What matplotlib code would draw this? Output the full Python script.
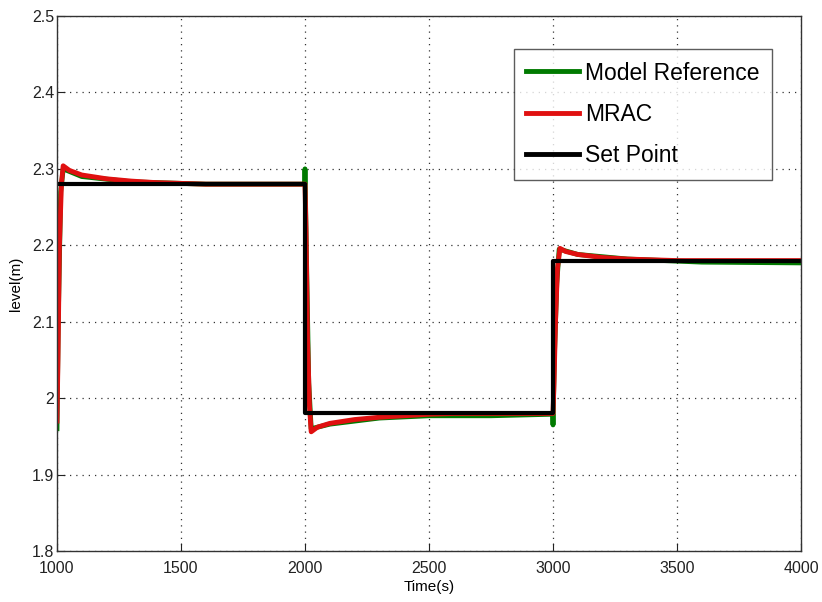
import matplotlib
matplotlib.use("Agg")
import matplotlib.pyplot as plt

plt.rcParams["font.family"] = ["Liberation Sans", "DejaVu Sans"]

# Set point (step changes)
setpoint_t = [1000, 2000, 2000, 3000, 3000, 4000]
setpoint_y = [2.28, 2.28, 1.98, 1.98, 2.18, 2.18]

# Model reference output
model_t = [1000, 1005, 1015, 1025, 1100, 1300, 1600, 1999,
           2000, 2005, 2015, 2025, 2100, 2300, 2500, 2750, 2999,
           3000, 3005, 3015, 3025, 3100, 3300, 3600, 4000]
model_y = [1.96, 2.10, 2.27, 2.30, 2.29, 2.283, 2.28, 2.28,
           2.30, 2.20, 2.02, 1.96, 1.966, 1.974, 1.977, 1.977, 1.979,
           1.965, 2.05, 2.15, 2.195, 2.188, 2.182, 2.178, 2.177]

# MRAC plant output
mrac_t = [1000, 1004, 1010, 1018, 1025, 1050, 1100, 1200, 1300, 1400, 1500, 1600, 1800,
          2000, 2004, 2010, 2018, 2025, 2050, 2100, 2200, 2300, 2400, 2500, 2600, 2800,
          3000, 3004, 3010, 3018, 3028, 3050, 3100, 3200, 3300, 3400, 3500, 3700, 4000]
mrac_y = [1.97, 2.05, 2.20, 2.28, 2.304, 2.298, 2.292, 2.287, 2.284, 2.282, 2.281, 2.280, 2.280,
          2.280, 2.22, 2.08, 1.99, 1.956, 1.962, 1.967, 1.972, 1.975, 1.977, 1.979, 1.980, 1.980,
          1.980, 2.02, 2.10, 2.17, 2.196, 2.192, 2.188, 2.184, 2.182, 2.181, 2.180, 2.180, 2.180]

x_ticks = [1000, 1500, 2000, 2500, 3000, 3500, 4000]
y_ticks = [1.8, 1.9, 2.0, 2.1, 2.2, 2.3, 2.4, 2.5]
y_tick_labels = ["1.8", "1.9", "2", "2.1", "2.2", "2.3", "2.4", "2.5"]

fig = plt.figure(figsize=(8.22, 6.02), dpi=100)
ax = fig.add_axes([0.0693, 0.0847, 0.9052, 0.8887])

ax.plot(model_t, model_y, color="#007a00", lw=3.5, label="Model Reference")
ax.plot(mrac_t, mrac_y, color="#e01010", lw=3.5, label="MRAC")
ax.plot(setpoint_t, setpoint_y, color="black", lw=3, label="Set Point")

ax.set_xlim(1000, 4000)
ax.set_ylim(1.8, 2.5)
ax.set_xticks(x_ticks)
ax.set_yticks(y_ticks)
ax.set_yticklabels(y_tick_labels)
ax.tick_params(direction="in", length=6, labelsize=11.5, colors="#222222")
ax.tick_params(axis="x", pad=7)
ax.tick_params(axis="y", pad=2)
ax.grid(True, linestyle=(0, (1, 4)), color="#333333", linewidth=0.9)
for spine in ax.spines.values():
    spine.set_color("#333333")
    spine.set_linewidth(1.0)

ax.set_xlabel("Time(s)", fontsize=11, labelpad=3)
ax.set_ylabel("level(m)", fontsize=11, labelpad=6)

leg = ax.legend(loc="upper right", bbox_to_anchor=(0.961, 0.9385), fontsize=16.5,
                frameon=True, fancybox=False, handlelength=2.3, handletextpad=0.25,
                labelspacing=0.8, borderpad=0.55, borderaxespad=0)
leg.get_frame().set_edgecolor("#333333")
leg.get_frame().set_linewidth(1.0)
for line in leg.get_lines():
    line.set_linewidth(3.5)

fig.savefig("out.png", dpi=100)
